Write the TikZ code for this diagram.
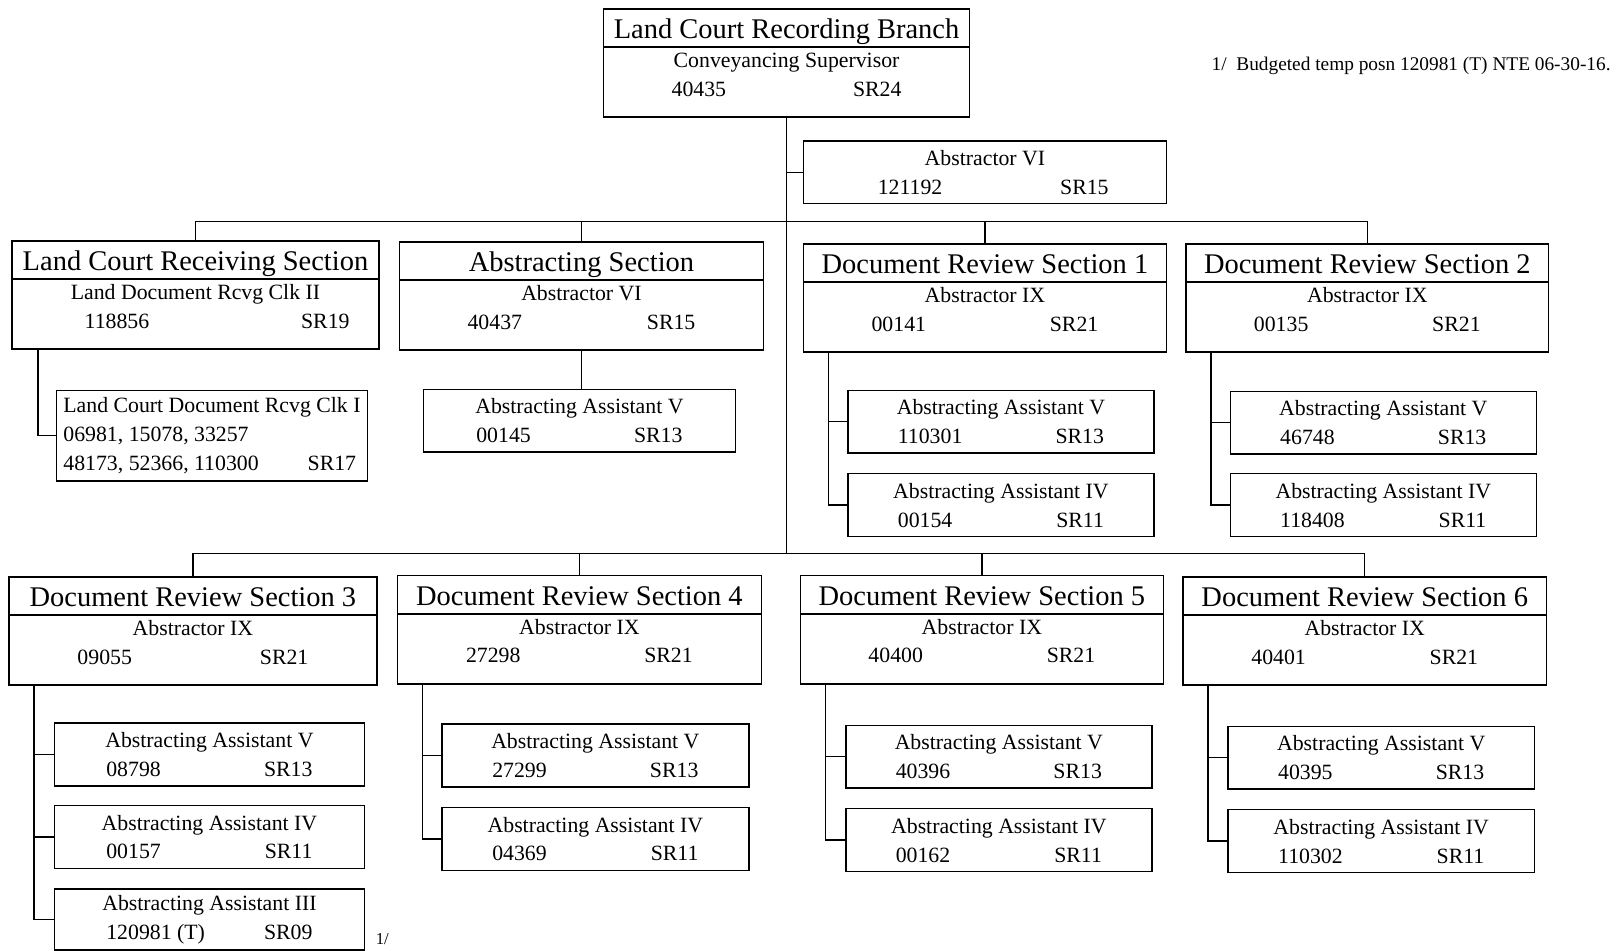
\documentclass[tikz,border=0pt]{standalone}
\usepackage{fontspec}
\setmainfont{Liberation Serif}
\newlength{\px}\setlength{\px}{0.58646pt}
\newcommand{\sectitle}[1]{{\fontsize{16.2}{16.4}\selectfont #1}}
\newcommand{\posline}[3][200]{\makebox[#1\px]{#2\hfill#3}}
\begin{document}
\begin{tikzpicture}[x=\px,y=-\px,
  line width=0.8pt,
  sect/.style={rectangle,draw,anchor=north west,minimum width=353\px,minimum height=105\px,inner sep=0pt,
    align=center,text depth=10\px,font=\fontsize{12.4}{16.4}\selectfont,
    path picture={\draw ([yshift=-37\px]path picture bounding box.north west)--([yshift=-37\px]path picture bounding box.north east);}},
  posn/.style={rectangle,draw,anchor=north west,minimum width=298\px,minimum height=61\px,inner sep=0pt,
    align=center,font=\fontsize{12.4}{16.4}\selectfont}]
          \useasboundingbox (0,0) rectangle (1568,922);
          \coordinate (bus1) at (0,215);\coordinate (bus2) at (0,537);
          % branch head
          \node[sect,minimum width=355\px] (LCRB) at (585,8) {\sectitle{Land Court Recording Branch}\\Conveyancing Supervisor\\\posline[223]{40435}{SR24}};
          \node[posn,minimum width=352\px] (AbVI) at (779,136) {Abstractor VI\\\hspace*{16\px}\posline[224]{121192}{SR15}};
          % first row of sections
          \node[sect,minimum width=356\px] (LCRS) at (11,233) {\sectitle{Land Court Receiving Section}\\Land Document Rcvg Clk II\\\hspace*{42\px}\posline[257]{118856}{SR19}};
          \node[sect] (AS) at (387,234) {\sectitle{Abstracting Section}\\Abstractor VI\\\posline[221]{40437}{SR15}};
          \node[sect,minimum width=352\px] (DR1) at (779,236) {\sectitle{Document Review Section 1}\\Abstractor IX\\\posline[220]{00141}{SR21}};
          \node[sect,minimum width=352\px] (DR2) at (1150,236) {\sectitle{Document Review Section 2}\\Abstractor IX\\\posline[220]{00135}{SR21}};
          % second row of sections
          \node[sect,minimum width=357\px] (DR3) at (8,559) {\sectitle{Document Review Section 3}\\Abstractor IX\\\posline[224]{09055}{SR21}};
          \node[sect] (DR4) at (385,558) {\sectitle{Document Review Section 4}\\Abstractor IX\\\posline[220]{27298}{SR21}};
          \node[sect,minimum width=352\px] (DR5) at (776,558) {\sectitle{Document Review Section 5}\\Abstractor IX\\\posline[220]{40400}{SR21}};
          \node[sect] (DR6) at (1147,559) {\sectitle{Document Review Section 6}\\Abstractor IX\\\posline[220]{40401}{SR21}};
          % staff
          \node[posn,minimum width=302\px,minimum height=88\px,align=left] (LCRS-1) at (54,378) {Land Court Document Rcvg Clk I\\06981, 15078, 33257\\\posline[284]{48173, 52366, 110300}{SR17}};
          \node[posn,minimum width=303\px] (AS-1) at (410,377) {Abstracting Assistant V\\\posline{00145}{SR13}};
          \node[posn,minimum width=297\px] (DR1-1) at (822,378) {Abstracting Assistant V\\\posline{110301}{SR13}};
          \node[posn,minimum width=297\px] (DR1-2) at (822,459) {Abstracting Assistant IV\\\posline{00154}{SR11}};
          \node[posn,minimum width=297\px] (DR2-1) at (1193,379) {Abstracting Assistant V\\\posline{46748}{SR13}};
          \node[posn,minimum width=297\px] (DR2-2) at (1193,459) {Abstracting Assistant IV\\\posline{118408}{SR11}};
          \node[posn,minimum width=301\px] (DR3-1) at (52,701) {Abstracting Assistant V\\\posline{08798}{SR13}};
          \node[posn,minimum width=301\px] (DR3-2) at (52,781) {Abstracting Assistant IV\\\posline{00157}{SR11}};
          \node[posn,minimum width=301\px,minimum height=59\px] (DR3-3) at (52,862) {Abstracting Assistant III\\\posline{120981 (T)}{SR09}};
          \node[posn] (DR4-1) at (428,702) {Abstracting Assistant V\\\posline{27299}{SR13}};
          \node[posn] (DR4-2) at (428,783) {Abstracting Assistant IV\\\posline{04369}{SR11}};
          \node[posn,minimum width=297\px] (DR5-1) at (820,703) {Abstracting Assistant V\\\posline{40396}{SR13}};
          \node[posn,minimum width=297\px] (DR5-2) at (820,784) {Abstracting Assistant IV\\\posline{00162}{SR11}};
          \node[posn,minimum width=297\px] (DR6-1) at (1191,704) {Abstracting Assistant V\\\posline{40395}{SR13}};
          \node[posn,minimum width=297\px] (DR6-2) at (1191,785) {Abstracting Assistant IV\\\posline{110302}{SR11}};
          % footnote
          \node[anchor=west,inner sep=0pt,font=\fontsize{11}{13}\selectfont] (note) at (1175,64) {1/\ \ Budgeted temp posn 120981 (T) NTE 06-30-16.};
          \node[anchor=west,inner sep=0pt,font=\fontsize{9.5}{10}\selectfont] (mark) at (364,911) {1/};
          % lines
          \draw (LCRB.south)--(LCRB.south |- bus2) (LCRB.south |- AbVI.west)--(AbVI.west);
          \draw (LCRS.north) |- (DR2.north |- bus1)--(DR2.north) (AS.north)--(AS.north |- bus1) (DR1.north)--(DR1.north |- bus1);
          \draw (DR3.north) |- (DR6.north |- bus2)--(DR6.north) (DR4.north)--(DR4.north |- bus2) (DR5.north)--(DR5.north |- bus2);
          \draw ([xshift=26\px]LCRS.south west) |- (LCRS-1.west);
          \draw (AS.south)--(AS.south |- AS-1.north);
          \foreach \s in {DR1,DR2,DR3,DR4,DR5,DR6}{
            \draw ([xshift=25\px]\s.south west) |- (\s-2.west) ([xshift=25\px]\s.south west |- \s-1.west)--(\s-1.west);
          }
          \draw ([xshift=25\px]DR3.south west |- DR3-2.west) |- (DR3-3.west);
\end{tikzpicture}
\end{document}
